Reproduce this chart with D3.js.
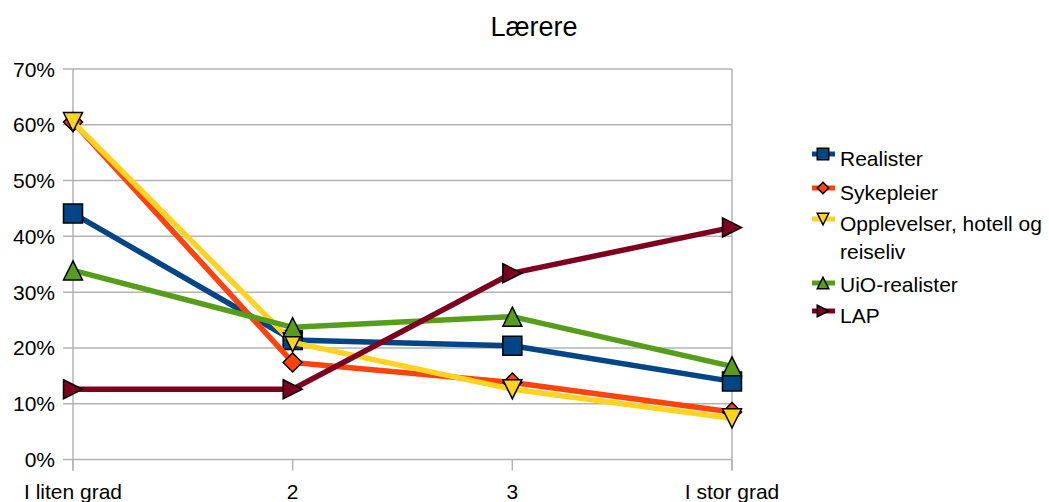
<!DOCTYPE html>
<html>
<head>
<meta charset="utf-8">
<script src="https://cdn.jsdelivr.net/npm/d3@7"></script>
<style>
  html, body { margin: 0; padding: 0; background: #fff; overflow: hidden; }
  svg { display: block; font-family: "Liberation Sans", Arial, sans-serif; }
</style>
</head>
<body>
<svg id="chart" width="1049" height="502"></svg>
<script>
// Categories along the x axis
const categories = ["I liten grad", "2", "3", "I stor grad"];

// Share of answers per group (percent)
const realister    = [44.1, 21.4, 20.4, 14.0];
const sykepleier   = [60.5, 17.4, 13.8, 8.5];
const opplevelser  = [60.5, 21.0, 12.6, 7.4];
const uioRealister = [33.9, 23.7, 25.6, 16.7];
const lap          = [12.6, 12.6, 33.4, 41.6];

const seriesNames = ["Realister", "Sykepleier", "Opplevelser, hotell og reiseliv", "UiO-realister", "LAP"];
const seriesValues = [realister, sykepleier, opplevelser, uioRealister, lap];
const seriesColors = ["#004586", "#ff420e", "#ffd320", "#579d1c", "#7e0021"];
const seriesMarkers = ["square", "diamond", "triangleDown", "triangleUp", "triangleRight"];

const yTicks = [0, 10, 20, 30, 40, 50, 60, 70];

const svg = d3.select("#chart");
const plot = { left: 73, right: 732, top: 69, bottom: 459.5 };

const x = d3.scalePoint().domain(categories).range([plot.left, plot.right]).padding(0);
const y = d3.scaleLinear().domain([0, 70]).range([plot.bottom, plot.top]);

const grid = "#b3b3b3";
const fontSize = 21;

// Title
svg.append("text")
  .attr("x", 534).attr("y", 36)
  .attr("text-anchor", "middle")
  .attr("font-size", 27)
  .attr("fill", "#000")
  .text("Lærere");

// Horizontal gridlines with tick stubs to the left
svg.append("g").selectAll("line")
  .data(yTicks).join("line")
  .attr("x1", plot.left - 10).attr("x2", plot.right)
  .attr("y1", d => y(d)).attr("y2", d => y(d))
  .attr("stroke", grid).attr("stroke-width", 1.5);

// Y axis labels
svg.append("g").selectAll("text")
  .data(yTicks).join("text")
  .attr("x", 55).attr("y", d => y(d) + 7.5)
  .attr("text-anchor", "end")
  .attr("font-size", fontSize)
  .attr("fill", "#000")
  .text(d => d + "%");

// Left axis and right border
[plot.left, plot.right].forEach(px => {
  svg.append("line")
    .attr("x1", px).attr("x2", px)
    .attr("y1", plot.top).attr("y2", plot.bottom + 11)
    .attr("stroke", grid).attr("stroke-width", 1.5);
});

// X ticks
svg.append("g").selectAll("line")
  .data(categories).join("line")
  .attr("x1", d => x(d)).attr("x2", d => x(d))
  .attr("y1", plot.bottom).attr("y2", plot.bottom + 11)
  .attr("stroke", grid).attr("stroke-width", 1.5);

// X labels
svg.append("g").selectAll("text")
  .data(categories).join("text")
  .attr("x", d => x(d)).attr("y", 499)
  .attr("text-anchor", "middle")
  .attr("font-size", fontSize)
  .attr("fill", "#000")
  .text(d => d);

// Marker shapes
function markerPath(type, s) {
  const h = s / 2;
  switch (type) {
    case "square": return `M${-h},${-h}H${h}V${h}H${-h}Z`;
    case "diamond": return `M0,${-h}L${h},0L0,${h}L${-h},0Z`;
    case "triangleDown": return `M${-h},${-h}L${h},${-h}L0,${h}Z`;
    case "triangleUp": return `M0,${-h}L${h},${h}L${-h},${h}Z`;
    case "triangleRight": return `M${-h},${-h}L${h},0L${-h},${h}Z`;
  }
}

const line = d3.line().x((d, i) => x(categories[i])).y(d => y(d));

seriesValues.forEach((vals, si) => {
  const g = svg.append("g");
  g.append("path")
    .attr("d", line(vals))
    .attr("fill", "none")
    .attr("stroke", seriesColors[si])
    .attr("stroke-width", 5.5)
    .attr("stroke-linejoin", "round");
  g.selectAll("path.m")
    .data(vals).join("path")
    .attr("class", "m")
    .attr("transform", (d, i) => `translate(${x(categories[i])},${y(d)})`)
    .attr("d", markerPath(seriesMarkers[si], 19))
    .attr("fill", seriesColors[si])
    .attr("stroke", "#000")
    .attr("stroke-width", 1.5);
});

// Legend
const legendRows = [
  { my: 154, ty: [166] },
  { my: 188, ty: [200] },
  { my: 219, ty: [231, 259] },
  { my: 283, ty: [292] },
  { my: 311, ty: [323] }
];
const legendLabels = [["Realister"], ["Sykepleier"], ["Opplevelser, hotell og", "reiseliv"], ["UiO-realister"], ["LAP"]];
const leg = svg.append("g");
legendRows.forEach((row, si) => {
  leg.append("line")
    .attr("x1", 812).attr("x2", 835)
    .attr("y1", row.my).attr("y2", row.my)
    .attr("stroke", seriesColors[si]).attr("stroke-width", 5);
  leg.append("path")
    .attr("transform", `translate(823,${row.my})`)
    .attr("d", markerPath(seriesMarkers[si], 11.5))
    .attr("fill", seriesColors[si])
    .attr("stroke", "#000")
    .attr("stroke-width", 1.5);
  legendLabels[si].forEach((t, li) => {
    leg.append("text")
      .attr("x", 840).attr("y", row.ty[li])
      .attr("font-size", fontSize)
      .attr("fill", "#000")
      .text(t);
  });
});
</script>
</body>
</html>
